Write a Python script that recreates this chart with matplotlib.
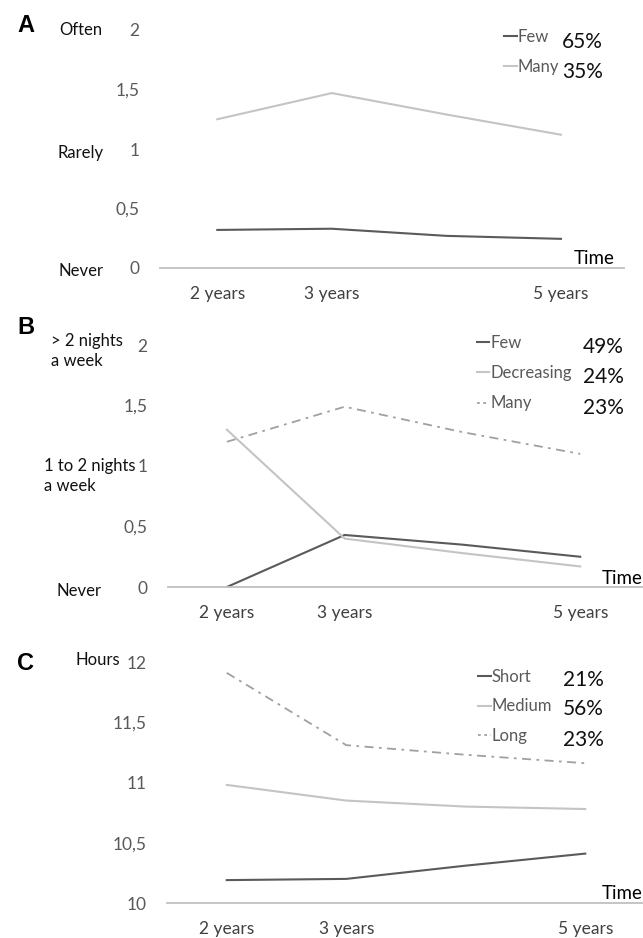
import matplotlib.pyplot as plt
from matplotlib.lines import Line2D

# time points (years); lines bend at 4 years, ticks only at 2, 3, 5
years = [2, 3, 4, 5]
tick_years = [2, 3, 5]
tick_labels = ["2 years", "3 years", "5 years"]

# A: frequency
a_few = [0.32, 0.33, 0.27, 0.245]
a_many = [1.25, 1.47, 1.29, 1.12]
# B: nights a week
b_few = [0.0, 0.43, 0.35, 0.25]
b_decr = [1.30, 0.40, 0.28, 0.17]
b_many = [1.20, 1.49, 1.28, 1.10]
# C: sleep hours
c_short = [10.19, 10.20, 10.31, 10.41]
c_medium = [10.98, 10.85, 10.80, 10.78]
c_long = [11.91, 11.31, 11.23, 11.16]

W, H = 643, 938
plt.rcParams["font.family"] = ["Lato", "DejaVu Sans"]

DARK = "#5a5a5a"
LIGHT = "#c4c4c4"
DASH = "#a0a0a0"
TICK = "#595959"


def fx(x):
    return x / W


def fy(y):
    return 1 - y / H


def make_axes(x0, x1, y_lo, y_hi, ylim):
    ax = fig.add_axes([fx(x0), fy(y_lo), (x1 - x0) / W, (y_lo - y_hi) / H])
    ax.set_xlim(1.5, 5.55)
    ax.set_ylim(*ylim)
    for s in ["top", "right", "left"]:
        ax.spines[s].set_visible(False)
    ax.spines["bottom"].set_color("#c0c0c0")
    ax.spines["bottom"].set_linewidth(1.3)
    ax.set_xticks(tick_years)
    ax.set_xticklabels(tick_labels)
    ax.tick_params(axis="x", length=0, pad=13, labelsize=12.5, labelcolor="#404040")
    ax.tick_params(axis="y", length=0, pad=15, labelsize=12.5, labelcolor=TICK)
    return ax


def fmt(vals):
    return [("%g" % v).replace(".", ",") for v in vals]


def legend(ax, labels, styles, x, y, spacing=0.85):
    h = [Line2D([], [], color=c, lw=lw, linestyle=ls) for c, lw, ls in styles]
    ax.legend(h, labels, loc="upper left", bbox_to_anchor=(fx(x), fy(y)),
              bbox_transform=fig.transFigure, frameon=False, handlelength=0.75,
              handletextpad=0.05, labelspacing=spacing, borderpad=0,
              borderaxespad=0, fontsize=12, labelcolor=TICK)


dashdot = (0, (5, 3, 1.5, 3))
s_dark = (DARK, 1.5, "-")
s_light = (LIGHT, 1.5, "-")
s_dash = (DASH, 1.3, (0, (1.5, 2)))
LAB = dict(fontsize=12, color="#111111")
PCT = dict(fontsize=15, color="#111111")
LET = dict(fontsize=17, fontweight="bold", family="Liberation Sans", ha="center", va="center")

fig = plt.figure(figsize=(W / 100, H / 100), dpi=100)

# ---- A ----
ax = make_axes(160, 624, 268, 30, (0, 2))
ax.set_yticks([0, 0.5, 1, 1.5, 2])
ax.set_yticklabels(fmt([0, 0.5, 1, 1.5, 2]))
ax.plot(years, a_few, color=DARK, lw=1.5)
ax.plot(years, a_many, color=LIGHT, lw=1.5)
legend(ax, ["Few", "Many"], [s_dark, s_light], 504, 29)
for y, t in [(42, "65%"), (72, "35%")]:
    fig.text(fx(603), fy(y), t, ha="right", va="center", **PCT)
for y, t in [(30, "Often"), (153, "Rarely"), (271, "Never")]:
    fig.text(fx(81), fy(y), t, ha="center", va="center", **LAB)
fig.text(fx(615), fy(259), "Time", ha="right", va="center", fontsize=13.5, color="black")
fig.text(fx(26), fy(25), "A", **LET)

# ---- B ----
ax = make_axes(168, 645, 587, 345, (0, 2))
ax.set_yticks([0, 0.5, 1, 1.5, 2])
ax.set_yticklabels(fmt([0, 0.5, 1, 1.5, 2]))
ax.plot(years, b_few, color=DARK, lw=1.5)
ax.plot(years, b_decr, color=LIGHT, lw=1.5)
ax.plot(years, b_many, color=DASH, lw=1.3, linestyle=dashdot)
legend(ax, ["Few", "Decreasing", "Many"], [s_dark, s_light, s_dash], 477, 335)
for y, t in [(347, "49%"), (377, "24%"), (408, "23%")]:
    fig.text(fx(624), fy(y), t, ha="right", va="center", **PCT)
fig.text(fx(51), fy(333), "> 2 nights\na week", ha="left", va="top",
         linespacing=1.3, **LAB)
fig.text(fx(44), fy(458), "1 to 2 nights\na week", ha="left", va="top",
         linespacing=1.3, **LAB)
fig.text(fx(79), fy(591), "Never", ha="center", va="center", **LAB)
fig.text(fx(643), fy(578), "Time", ha="right", va="center", fontsize=13.5, color="black")
fig.text(fx(26), fy(328), "B", **LET)

# ---- C ----
ax = make_axes(167, 651, 903, 662, (10, 12))
ax.set_yticks([10, 10.5, 11, 11.5, 12])
ax.set_yticklabels(fmt([10, 10.5, 11, 11.5, 12]))
ax.plot(years, c_short, color=DARK, lw=1.5)
ax.plot(years, c_medium, color=LIGHT, lw=1.5)
ax.plot(years, c_long, color=DASH, lw=1.3, linestyle=dashdot)
legend(ax, ["Short", "Medium", "Long"], [s_dark, s_light, s_dash], 478, 669, 0.8)
for y, t in [(680, "21%"), (709, "56%"), (740, "23%")]:
    fig.text(fx(604), fy(y), t, ha="right", va="center", **PCT)
fig.text(fx(98), fy(660), "Hours", ha="center", va="center", **LAB)
fig.text(fx(643), fy(893), "Time", ha="right", va="center", fontsize=13.5, color="black")
fig.text(fx(26), fy(663), "C", **LET)

fig.savefig("out.png", dpi=100)
